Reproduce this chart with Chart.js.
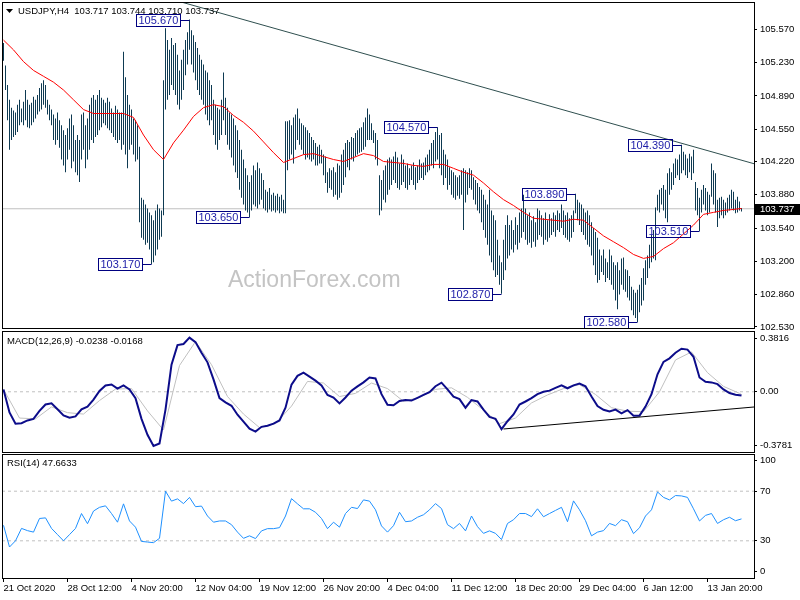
<!DOCTYPE html>
<html>
<head>
<meta charset="utf-8">
<title>USDJPY H4</title>
<script src="https://cdn.jsdelivr.net/npm/chart.js@4.4.1/dist/chart.umd.min.js"></script>
<style>
  html, body { margin: 0; padding: 0; background: #fff; }
  #wrap { position: relative; width: 800px; height: 600px; overflow: hidden; background: #fff; }
  canvas { position: absolute; left: 0; }
</style>
</head>
<body>
<div id="wrap">
  <canvas id="price" width="800" height="331" style="top:0"></canvas>
  <canvas id="macd" width="800" height="124" style="top:330px"></canvas>
  <canvas id="rsi" width="800" height="147" style="top:453px"></canvas>
</div>
<script>
// H4 bars, one per index
const highs = [
  105.43, 105.20, 105.00, 104.85, 104.77, 104.74, 104.72, 104.80, 104.85, 104.76,
  104.83, 104.95, 104.85, 104.80, 104.82, 104.88, 104.85, 104.90, 104.97, 105.02,
  105.05, 105.00, 104.85, 104.80, 104.75, 104.70, 104.66, 104.72, 104.64, 104.59,
  104.54, 104.49, 104.56, 104.66, 104.70, 104.59, 104.44, 104.49, 104.44, 104.70,
  104.72, 104.59, 104.66, 104.80, 104.87, 104.90, 104.85, 104.90, 104.95, 104.87,
  104.85, 104.82, 104.87, 104.83, 104.76, 104.72, 104.79, 104.75, 104.72, 104.72,
  105.34, 105.08, 104.90, 104.80, 104.75, 104.66, 104.64, 104.59, 104.37, 103.85,
  103.83, 103.78, 103.74, 103.70, 103.67, 103.62, 103.72, 103.78, 103.74, 103.72,
  105.05, 105.58, 105.46, 105.36, 105.48, 105.41, 105.43, 105.31, 105.15, 105.26,
  105.36, 105.46, 105.54, 105.67, 105.56, 105.51, 105.44, 105.38, 105.31, 105.26,
  105.21, 105.15, 105.13, 105.05, 105.00, 104.85, 104.80, 104.77, 104.75, 104.85,
  105.13, 104.87, 104.77, 104.72, 104.70, 104.66, 104.59, 104.54, 104.44, 104.34,
  104.24, 104.15, 104.08, 104.01, 104.08, 104.18, 104.13, 104.21, 104.15, 104.10,
  104.03, 103.93, 103.91, 103.95, 103.88, 103.90, 103.87, 103.89, 103.86, 103.88,
  103.83, 104.63, 104.63, 104.64, 104.59, 104.67, 104.70, 104.76, 104.66, 104.61,
  104.59, 104.57, 104.54, 104.51, 104.47, 104.44, 104.41, 104.37, 104.39, 104.34,
  104.29, 104.27, 104.11, 104.15, 104.13, 104.16, 104.11, 104.20, 104.18, 104.29,
  104.34, 104.41, 104.44, 104.42, 104.47, 104.46, 104.51, 104.54, 104.56, 104.57,
  104.62, 104.67, 104.76, 104.70, 104.61, 104.54, 104.51, 104.44, 104.08, 104.03,
  104.13, 104.18, 104.24, 104.26, 104.24, 104.27, 104.32, 104.26, 104.20, 104.29,
  104.24, 104.18, 104.20, 104.15, 104.18, 104.21, 104.16, 104.18, 104.24, 104.20,
  104.21, 104.26, 104.29, 104.34, 104.41, 104.44, 104.52, 104.57, 104.49, 104.51,
  104.34, 104.29, 104.24, 104.16, 104.13, 104.11, 104.08, 104.06, 104.08, 104.13,
  104.15, 104.13, 104.11, 104.15, 104.13, 104.06, 104.03, 104.00, 103.96, 103.93,
  103.88, 103.83, 103.78, 103.93, 103.72, 103.67, 103.62, 103.42, 103.26, 103.19,
  103.42, 103.57, 103.67, 103.57, 103.62, 103.52, 103.65, 103.57, 103.70, 103.74,
  103.88, 103.74, 103.67, 103.70, 103.62, 103.66, 103.60, 103.74, 103.72, 103.67,
  103.64, 103.70, 103.62, 103.68, 103.64, 103.70, 103.67, 103.72, 103.69, 103.78,
  103.72, 103.67, 103.70, 103.64, 103.67, 103.72, 103.89, 103.83, 103.80, 103.78,
  103.74, 103.70, 103.72, 103.67, 103.60, 103.54, 103.50, 103.44, 103.32, 103.26,
  103.32, 103.23, 103.19, 103.32, 103.26, 103.19, 103.16, 103.19, 103.11, 103.23,
  103.24, 103.12, 103.11, 103.05, 102.94, 102.91, 102.88, 102.91, 102.96, 103.03,
  103.13, 103.21, 103.26, 103.37, 103.47, 103.52, 103.75, 103.88, 103.93, 103.95,
  103.98, 103.93, 104.10, 104.15, 104.11, 104.20, 104.25, 104.24, 104.29, 104.39,
  104.32, 104.29, 104.25, 104.30, 104.27, 104.34, 104.01, 103.95, 103.85, 103.93,
  103.98, 103.95, 103.91, 103.88, 104.20, 104.13, 104.10, 103.83, 103.85, 103.86,
  103.83, 103.80, 103.85, 103.88, 103.93, 103.91, 103.83, 103.86, 103.81, 103.744
]
const lows = [
  105.25, 104.95, 104.64, 104.34, 104.44, 104.47, 104.49, 104.52, 104.59, 104.62,
  104.59, 104.64, 104.57, 104.56, 104.59, 104.62, 104.66, 104.70, 104.73, 104.75,
  104.80, 104.77, 104.70, 104.64, 104.59, 104.44, 104.39, 104.44, 104.36, 104.24,
  104.18, 104.11, 104.24, 104.34, 104.15, 104.22, 104.11, 104.08, 104.01, 104.24,
  104.34, 104.15, 104.24, 104.34, 104.44, 104.41, 104.47, 104.49, 104.54, 104.57,
  104.61, 104.59, 104.56, 104.54, 104.51, 104.47, 104.44, 104.41, 104.44, 104.34,
  104.39, 104.29, 104.15, 104.34, 104.39, 104.29, 104.22, 104.24, 103.60, 103.44,
  103.42, 103.37, 103.39, 103.32, 103.17, 103.19, 103.26, 103.32, 103.42, 103.45,
  103.67, 104.75, 104.85, 104.90, 105.00, 104.95, 104.90, 104.80, 104.75, 104.85,
  104.95, 105.10, 105.21, 105.36, 105.21, 105.13, 105.05, 104.95, 104.90, 104.85,
  104.80, 104.70, 104.64, 104.59, 104.64, 104.49, 104.39, 104.34, 104.44, 104.49,
  104.64, 104.49, 104.39, 104.34, 104.26, 104.18, 104.11, 104.05, 103.93, 103.85,
  103.78, 103.72, 103.70, 103.65, 103.72, 103.78, 103.76, 103.74, 103.78, 103.83,
  103.74, 103.72, 103.70, 103.73, 103.71, 103.72, 103.70, 103.72, 103.69, 103.71,
  103.69, 103.69, 104.13, 104.24, 104.29, 104.20, 104.34, 104.44, 104.39, 104.34,
  104.29, 104.24, 104.26, 104.24, 104.22, 104.24, 104.18, 104.18, 104.20, 104.20,
  104.08, 104.00, 103.90, 103.95, 103.93, 103.86, 103.88, 103.83, 103.85, 103.90,
  103.98, 104.06, 104.16, 104.13, 104.24, 104.22, 104.27, 104.29, 104.31, 104.32,
  104.34, 104.37, 104.44, 104.44, 104.44, 104.41, 104.24, 104.18, 103.67, 103.72,
  103.83, 103.80, 103.88, 103.93, 103.98, 104.03, 104.00, 103.95, 103.93, 103.98,
  104.01, 103.95, 103.93, 103.98, 104.03, 103.98, 103.93, 104.00, 104.03, 104.05,
  104.03, 104.08, 104.11, 104.13, 104.18, 104.15, 104.22, 104.24, 104.15, 104.08,
  103.98, 104.05, 103.93, 103.98, 103.88, 103.85, 103.83, 103.87, 103.84, 103.88,
  103.52, 103.80, 103.88, 103.95, 103.93, 103.83, 103.78, 103.72, 103.69, 103.60,
  103.52, 103.44, 103.37, 103.26, 103.19, 103.11, 103.04, 103.06, 102.96, 102.87,
  103.01, 103.11, 103.23, 103.26, 103.32, 103.29, 103.37, 103.32, 103.39, 103.44,
  103.50, 103.42, 103.37, 103.39, 103.34, 103.40, 103.35, 103.42, 103.47, 103.45,
  103.37, 103.42, 103.40, 103.44, 103.47, 103.50, 103.45, 103.52, 103.50, 103.54,
  103.47, 103.44, 103.42, 103.40, 103.44, 103.50, 103.69, 103.62, 103.57, 103.50,
  103.47, 103.42, 103.37, 103.35, 103.26, 103.16, 103.06, 102.98, 103.01, 103.09,
  103.06, 102.99, 103.03, 103.01, 102.96, 102.91, 102.80, 102.71, 102.86, 102.96,
  102.91, 102.89, 102.83, 102.80, 102.70, 102.65, 102.62, 102.58, 102.68, 102.75,
  102.80, 102.96, 103.03, 103.13, 103.19, 103.23, 103.21, 103.72, 103.70, 103.78,
  103.72, 103.64, 103.60, 103.88, 103.93, 103.98, 104.05, 104.08, 104.03, 104.10,
  104.13, 104.08, 104.05, 104.11, 104.03, 104.10, 103.72, 103.67, 103.51, 103.70,
  103.78, 103.72, 103.67, 103.70, 103.86, 103.78, 103.70, 103.55, 103.64, 103.67,
  103.64, 103.67, 103.70, 103.72, 103.74, 103.72, 103.69, 103.70, 103.72, 103.710
]
const lastBar = { open: 103.717, high: 103.744, low: 103.710, close: 103.737 }

// moving average, one value every 5 bars
const maStep = 5
const maValues = [
  105.46, 105.36, 105.24, 105.15, 105.09, 105.03, 104.95, 104.85, 104.75, 104.71,
  104.71, 104.71, 104.71, 104.67, 104.49, 104.34, 104.24, 104.41, 104.54, 104.68,
  104.77, 104.80, 104.78, 104.69, 104.62, 104.53, 104.42, 104.31, 104.21, 104.25,
  104.29, 104.30, 104.27, 104.24, 104.22, 104.26, 104.30, 104.28, 104.22, 104.21,
  104.20, 104.18, 104.17, 104.19, 104.19, 104.15, 104.11, 104.08, 104.00, 103.91,
  103.83, 103.77, 103.70, 103.64, 103.63, 103.62, 103.61, 103.63, 103.62, 103.54,
  103.46, 103.40, 103.34, 103.27, 103.23, 103.25, 103.33, 103.39, 103.48, 103.57,
  103.68, 103.70, 103.72, 103.73, 103.74
]

// MACD(12,26,9): main line every 3 bars, signal every 8 bars
const macdStep = 3
const macdValues = [
  0.015, -0.13, -0.2, -0.197, -0.18, -0.17, -0.12, -0.08, -0.072, -0.11,
  -0.148, -0.163, -0.155, -0.11, -0.093, -0.049, 0.005, 0.04, 0.046, 0.02,
  0.04, 0.015, -0.04, -0.17, -0.27, -0.34, -0.325, -0.112, 0.17, 0.293,
  0.30, 0.34, 0.312, 0.245, 0.185, 0.078, -0.04, -0.066, -0.088, -0.144,
  -0.188, -0.232, -0.25, -0.22, -0.213, -0.2, -0.18, -0.1, 0.045, 0.10,
  0.12, 0.095, 0.07, 0.04, -0.02, -0.036, -0.073, -0.036, 0.007, 0.034,
  0.059, 0.09, 0.084, -0.015, -0.082, -0.085, -0.058, -0.052, -0.055, -0.038,
  -0.02, -0.002, 0.035, 0.057, 0.015, -0.03, -0.046, -0.10, -0.052, -0.061,
  -0.112, -0.158, -0.17, -0.235, -0.185, -0.142, -0.08, -0.061, -0.04, -0.015,
  0.0, 0.007, 0.025, 0.04, 0.022, 0.04, 0.052, 0.034, -0.03, -0.09,
  -0.113, -0.124, -0.112, -0.135, -0.115, -0.15, -0.15, -0.093, -0.015, 0.11,
  0.188, 0.21, 0.245, 0.27, 0.265, 0.22, 0.09, 0.063, 0.059, 0.048,
  0.015, -0.008, -0.018, -0.0238
]
const signalStep = 8
const signalValues = [
  0.015, -0.165, -0.17, -0.095, -0.131, -0.14, -0.055, 0.017, 0.02, -0.12,
  -0.24, 0.165, 0.315, 0.17, -0.03, -0.14, -0.225, -0.2, -0.09, 0.065,
  0.055, -0.03, -0.01, 0.055, 0.02, -0.06, -0.035, 0.015, 0.025, -0.035,
  -0.115, -0.2, -0.165, -0.07, -0.02, 0.02, 0.045, -0.017, -0.1, -0.122,
  -0.125, 0.0, 0.2, 0.25, 0.12, 0.034, -0.01, -0.0168
]
const macdMax = 0.3816
const macdMin = -0.3781

// RSI(14), one value every 3 bars
const rsiStep = 3
const rsiValues = [
  42.5, 25, 30, 40, 38.2, 37, 48, 48.5, 40, 35,
  30, 35, 40, 52, 43.8, 54, 57, 58.2, 52, 45,
  59.8, 46, 41, 29.5, 29, 28.5, 32, 70, 62, 63.8,
  60, 65, 57.5, 58, 50, 45, 46, 46, 43, 37,
  32, 34, 31.8, 38, 39.8, 39.8, 40.6, 50, 64, 59.8,
  55.8, 55.8, 53, 48, 39.8, 45, 41, 52, 57, 56,
  63, 62, 55, 42, 37, 42.2, 53, 45.4, 46, 49,
  51, 55, 60, 56, 43, 39.8, 44, 38, 50, 41.4,
  36, 38, 36, 31, 44, 47, 52, 52, 49.5, 55.8,
  49.4, 52, 54.5, 57, 45.4, 62.2, 55, 46.2, 34, 37,
  38.2, 44, 42.2, 47, 45.4, 35.8, 40.5, 50, 55, 69.4,
  65, 63, 66.5, 66.2, 65, 55.8, 46, 50.5, 52, 44,
  47, 49, 46.2, 47.6633
]
const rsiLevels = [70, 30]

// price axis
const priceMax = 105.849
const priceMin = 102.519
const priceTicks = [105.57, 105.23, 104.89, 104.55, 104.22, 103.88, 103.54, 103.20, 102.86, 102.53]

// time axis, one label every 32 bars
const dateTicks = [0, 32, 64, 96, 128, 160, 192, 224, 256, 288, 320, 352]
const dateLabels = ['21 Oct 2020', '28 Oct 12:00', '4 Nov 20:00', '12 Nov 04:00', '19 Nov 12:00', '26 Nov 20:00',
  '4 Dec 04:00', '11 Dec 12:00', '18 Dec 20:00', '29 Dec 04:00', '6 Jan 12:00', '13 Jan 20:00']

// swing highs / lows marked on the chart
const swingIdx = [93, 74, 123, 217, 249, 286, 317, 339, 348]
const swingPrice = [105.67, 103.17, 103.65, 104.57, 102.87, 103.89, 102.58, 104.39, 103.51]

// trend lines (bar index, value)
const priceTrend = [{ x: 80, y: 105.90 }, { x: 375.25, y: 104.197 }]
const macdTrend = [{ x: 250, y: -0.2336 }, { x: 375.25, y: -0.0955 }]

const LAST = highs.length - 1
const X_MIN = -0.75
const X_MAX = 375.25
const FONT = "'Liberation Sans', Arial, sans-serif"
const SMALL = { family: FONT, size: 9.5 }

Chart.defaults.font.family = FONT

function sampled(values, step) {
  return values.map((v, k) => ({ x: Math.min(k * step, LAST), y: v }))
}

function flat(y) {
  return [{ x: X_MIN, y: y }, { x: X_MAX, y: y }]
}

function line(data, color, width, extra) {
  return Object.assign({ type: 'line', data: data, borderColor: color, borderWidth: width,
    pointRadius: 0, tension: 0, fill: false }, extra || {})
}

function rightAxis(min, max, tickValues, labelFn) {
  return {
    position: 'right',
    min: min,
    max: max,
    // fixed width, and no extra room reserved for the end labels
    afterFit: (s) => { s.width = 46; s.paddingTop = 0; s.paddingBottom = 0 },
    afterBuildTicks: (s) => { s.ticks = tickValues.map((v) => ({ value: v })) },
    grid: { drawOnChartArea: false, drawTicks: true, tickLength: 3, tickColor: '#000' },
    border: { display: false },
    ticks: { color: '#000', padding: 3, font: SMALL, callback: labelFn }
  }
}

const hiddenX = { type: 'linear', min: X_MIN, max: X_MAX, offset: false, display: false }

const framePlugin = {
  id: 'frame',
  afterDraw: (chart) => {
    const { ctx, chartArea: a } = chart
    ctx.save()
    ctx.strokeStyle = '#000'
    ctx.lineWidth = 1
    ctx.strokeRect(a.left + 0.5, a.top + 0.5, a.right - a.left, a.bottom - a.top)
    ctx.restore()
  }
}

const titlePlugin = {
  id: 'panelTitle',
  afterDraw: (chart, args, opts) => {
    const ctx = chart.ctx
    ctx.save()
    ctx.fillStyle = '#000'
    ctx.font = '9.5px ' + FONT
    ctx.textBaseline = 'middle'
    if (opts.arrow) {
      ctx.beginPath()
      ctx.moveTo(6, 9)
      ctx.lineTo(13, 9)
      ctx.lineTo(9.5, 13)
      ctx.closePath()
      ctx.fill()
    }
    ctx.fillText(opts.text || '', opts.x, opts.y)
    ctx.restore()
  }
}

const watermarkPlugin = {
  id: 'watermark',
  beforeDatasetsDraw: (chart) => {
    const ctx = chart.ctx
    ctx.save()
    ctx.fillStyle = '#c4c4c4'
    ctx.font = '23px ' + FONT
    ctx.textBaseline = 'middle'
    ctx.fillText('ActionForex.com', 228, 281)
    ctx.restore()
  }
}

const swingPlugin = {
  id: 'swings',
  afterDatasetsDraw: (chart) => {
    const { ctx, scales } = chart
    ctx.save()
    ctx.font = '11px ' + FONT
    ctx.textBaseline = 'middle'
    ctx.lineWidth = 1
    swingIdx.forEach((idx, n) => {
      const text = swingPrice[n].toFixed(3)
      const x = scales.x.getPixelForValue(idx)
      const y = Math.round(scales.y.getPixelForValue(swingPrice[n])) + 0.5
      const w = Math.round(ctx.measureText(text).width) + 4
      const right = Math.round(x - 9.5) + 0.5
      ctx.strokeStyle = '#000080'
      ctx.strokeRect(right - w, y - 6, w, 12)
      ctx.beginPath()
      ctx.moveTo(right, y)
      ctx.lineTo(x, y)
      ctx.stroke()
      ctx.fillStyle = '#1c1ca8'
      ctx.fillText(text, right - w + 2, y + 0.5)
    })
    ctx.restore()
  }
}

const lastPricePlugin = {
  id: 'lastPrice',
  afterDraw: (chart) => {
    const { ctx, scales } = chart
    const y = Math.round(scales.y.getPixelForValue(lastBar.close))
    ctx.save()
    ctx.fillStyle = '#000'
    ctx.fillRect(755, y - 5, 45, 11)
    ctx.fillStyle = '#fff'
    ctx.font = '9.5px ' + FONT
    ctx.textBaseline = 'middle'
    ctx.fillText(lastBar.close.toFixed(3), 760, y + 0.5)
    ctx.restore()
  }
}

const common = {
  responsive: false,
  animation: false,
  devicePixelRatio: 1,
  events: []
}

// price panel
new Chart(document.getElementById('price'), {
  type: 'bar',
  data: {
    datasets: [
      line(flat(lastBar.close), '#c0c0c0', 1, { order: 9 }),
      {
        type: 'bar',
        data: highs.map((h, i) => ({ x: i, y: [lows[i], h] })),
        backgroundColor: '#0e3a52',
        barThickness: 1,
        inflateAmount: 0,
        grouped: false,
        order: 5
      },
      line(sampled(maValues, maStep), '#ff0000', 1, { order: 2 }),
      line(priceTrend, '#2f4f4f', 1, { order: 1 })
    ]
  },
  options: Object.assign({}, common, {
    layout: { padding: { left: 2, top: 2, bottom: 3, right: 0 } },
    plugins: {
      legend: { display: false },
      tooltip: { enabled: false },
      panelTitle: {
        arrow: true, x: 18, y: 11,
        text: 'USDJPY,H4  ' + [lastBar.open, lastBar.high, lastBar.low, lastBar.close].map((v) => v.toFixed(3)).join(' ')
      }
    },
    scales: {
      x: hiddenX,
      y: rightAxis(priceMin, priceMax, priceTicks, (v) => v.toFixed(3))
    }
  }),
  plugins: [watermarkPlugin, swingPlugin, framePlugin, lastPricePlugin, titlePlugin]
})

// MACD panel
const macdInset = (macdMax - macdMin) * 7 / 121
new Chart(document.getElementById('macd'), {
  type: 'line',
  data: {
    datasets: [
      line(flat(0), '#c0c0c0', 1, { borderDash: [3, 3], order: 9 }),
      line(sampled(signalValues, signalStep), '#c0c0c0', 1, { order: 3 }),
      line(sampled(macdValues, macdStep), '#0c0c8a', 2, { order: 2 }),
      line(macdTrend, '#000', 1, { order: 1 })
    ]
  },
  options: Object.assign({}, common, {
    layout: { padding: { left: 2, top: 1, bottom: 2, right: 0 } },
    plugins: {
      legend: { display: false },
      tooltip: { enabled: false },
      panelTitle: {
        x: 7, y: 11,
        text: 'MACD(12,26,9) ' + macdValues[macdValues.length - 1].toFixed(4) + ' ' + signalValues[signalValues.length - 1].toFixed(4)
      }
    },
    scales: {
      x: hiddenX,
      y: rightAxis(macdMin, macdMax, [macdMax - macdInset, 0, macdMin + macdInset],
        (v, i) => [macdMax.toFixed(4), '0.00', macdMin.toFixed(4)][i])
    }
  }),
  plugins: [framePlugin, titlePlugin]
})

// RSI panel with the time axis
const rsiInset = 100 * 6.5 / 124
new Chart(document.getElementById('rsi'), {
  type: 'line',
  data: {
    datasets: [
      line(flat(rsiLevels[0]), '#c0c0c0', 1, { borderDash: [3, 3], order: 9 }),
      line(flat(rsiLevels[1]), '#c0c0c0', 1, { borderDash: [3, 3], order: 9 }),
      line(sampled(rsiValues, rsiStep), '#1e90ff', 1, { order: 1 })
    ]
  },
  options: Object.assign({}, common, {
    layout: { padding: { left: 2, top: 1, bottom: 0, right: 0 } },
    plugins: {
      legend: { display: false },
      tooltip: { enabled: false },
      panelTitle: { x: 7, y: 10, text: 'RSI(14) ' + rsiValues[rsiValues.length - 1].toFixed(4) }
    },
    scales: {
      x: {
        type: 'linear',
        min: X_MIN,
        max: X_MAX,
        offset: false,
        afterFit: (s) => { s.height = 22; s.paddingLeft = 0; s.paddingRight = 0 },
        afterBuildTicks: (s) => { s.ticks = dateTicks.map((v) => ({ value: v })) },
        grid: { drawOnChartArea: false, drawTicks: true, tickLength: 4, tickColor: '#000' },
        border: { display: false },
        ticks: { align: 'start', maxRotation: 0, autoSkip: false, padding: 1, color: '#000', font: SMALL,
          callback: (v, i) => dateLabels[i] }
      },
      y: rightAxis(0, 100, [100 - rsiInset, rsiLevels[0], rsiLevels[1], rsiInset],
        (v, i) => ['100', String(rsiLevels[0]), String(rsiLevels[1]), '0'][i])
    }
  }),
  plugins: [framePlugin, titlePlugin]
})
</script>
</body>
</html>
